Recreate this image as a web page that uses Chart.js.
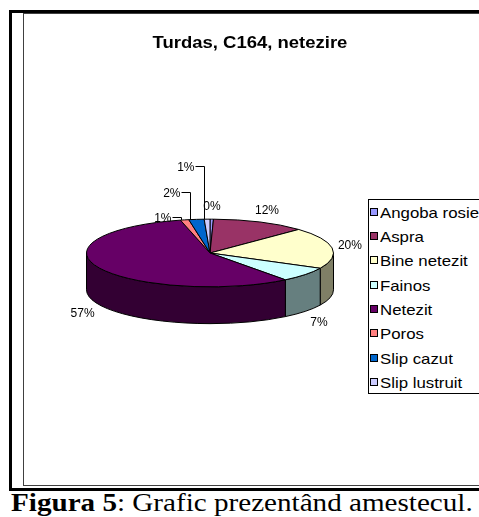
<!DOCTYPE html>
<html>
<head>
<meta charset="utf-8">
<script src="https://cdn.jsdelivr.net/npm/chart.js@4/dist/chart.umd.min.js"></script>
<style>
html,body{margin:0;padding:0;width:479px;height:517px;overflow:hidden;background:#fff;}
.abs{position:absolute;}
#title{left:0;top:34px;width:500px;text-align:center;font:bold 16.5px "Liberation Sans",Arial,sans-serif;line-height:16.5px;color:#000;transform:scaleX(1.12);transform-origin:250px 0;white-space:nowrap;}
#legend{left:368px;top:199px;width:160px;height:195px;border:1px solid #000;box-sizing:border-box;background:#fff;}
.sw{position:absolute;left:1px;width:6px;height:6px;border:1px solid #000;}
.lt{position:absolute;left:11px;height:16px;line-height:16px;font:15px "Liberation Sans",Arial,sans-serif;color:#000;white-space:nowrap;transform:scaleX(1.12);transform-origin:0 0;}
#caption{left:11px;top:490px;font:26px "Liberation Serif","Times New Roman",serif;line-height:26px;color:#000;white-space:nowrap;transform:scaleX(1.12);transform-origin:0 0;}
</style>
</head>
<body>
<div class="abs" style="left:23px;top:13px;width:520px;height:473px;border:1px solid #404040;box-sizing:border-box;"></div>
<div class="abs" style="left:9px;top:10px;width:520px;height:3px;background:#000;"></div>
<div class="abs" style="left:9px;top:10px;width:3px;height:481px;background:#000;"></div>
<div class="abs" style="left:9px;top:488px;width:520px;height:3px;background:#000;"></div>
<canvas id="c" class="abs" width="400" height="471" style="left:24px;top:14px;"></canvas>
<div id="title" class="abs"></div>
<div id="legend" class="abs"></div>
<div id="caption" class="abs"><b>Figura 5</b>: Grafic prezentând amestecul.</div>
<script>
// ---- data ----
const chartTitle = "Turdas, C164, netezire";
const categories = ["Angoba rosie", "Aspra", "Bine netezit", "Fainos", "Netezit", "Poros", "Slip cazut", "Slip lustruit"];
const shares = [0.45, 12.3, 19.7, 7.1, 56.6, 1.1, 2.0, 0.75];
const sliceColors = ["#9999FF", "#993366", "#FFFFCC", "#CCFFFF", "#660066", "#FF8080", "#0066CC", "#CCCCFF"];

function darken(hex) {
  const n = parseInt(hex.slice(1), 16);
  const r = ((n >> 16) & 255) >> 1, g = ((n >> 8) & 255) >> 1, b = (n & 255) >> 1;
  return "rgb(" + r + "," + g + "," + b + ")";
}

document.getElementById("title").textContent = chartTitle;
const lg = document.getElementById("legend");
categories.forEach((name, i) => {
  const c = 211.5 + 24.35 * i - 200;
  const sw = document.createElement("div");
  sw.className = "sw";
  sw.style.top = (c - 4) + "px";
  sw.style.background = sliceColors[i];
  lg.appendChild(sw);
  const t = document.createElement("div");
  t.className = "lt";
  t.style.top = (c - 8) + "px";
  t.textContent = name;
  lg.appendChild(t);
});

const pie3d = {
  id: "pie3d",
  beforeDatasetsDraw(chart, args, opts) {
    const ctx = chart.ctx;
    const arcs = chart.getDatasetMeta(0).data;
    const p0 = arcs[0].getProps(["x", "y", "outerRadius"], true);
    const cx = p0.x, cy = p0.y, rx = p0.outerRadius, ry = rx * opts.tilt, depth = rx * opts.depth;
    const colors = chart.data.datasets[0].backgroundColor;
    ctx.save();
    ctx.lineWidth = 1;
    ctx.strokeStyle = "#000";
    ctx.lineJoin = "round";
    // front walls
    arcs.forEach((arc, i) => {
      const p = arc.getProps(["startAngle", "endAngle"], true);
      const a0 = Math.max(p.startAngle, 0), a1 = Math.min(p.endAngle, Math.PI);
      if (a1 <= a0) return;
      ctx.beginPath();
      ctx.ellipse(cx, cy, rx, ry, 0, a0, a1, false);
      ctx.lineTo(cx + rx * Math.cos(a1), cy + ry * Math.sin(a1) + depth);
      ctx.ellipse(cx, cy + depth, rx, ry, 0, a1, a0, true);
      ctx.closePath();
      ctx.fillStyle = darken(colors[i]);
      ctx.fill();
      ctx.stroke();
    });
    // top face
    arcs.forEach((arc, i) => {
      const p = arc.getProps(["startAngle", "endAngle"], true);
      ctx.beginPath();
      ctx.moveTo(cx, cy);
      ctx.ellipse(cx, cy, rx, ry, 0, p.startAngle, p.endAngle, false);
      ctx.closePath();
      ctx.fillStyle = colors[i];
      ctx.fill();
      ctx.stroke();
    });
    // labels
    const vals = chart.data.datasets[0].data;
    const total = vals.reduce((a, b) => a + b, 0);
    ctx.font = "12px 'Liberation Sans', Arial, sans-serif";
    ctx.fillStyle = "#000";
    ctx.textBaseline = "middle";
    let level = 0;
    arcs.forEach((arc, i) => {
      const p = arc.getProps(["startAngle", "endAngle"], true);
      const pct = vals[i] / total * 100;
      const txt = Math.round(pct) + "%";
      const mid = (p.startAngle + p.endAngle) / 2;
      if (pct < 3 && mid > Math.PI && mid < 1.5 * Math.PI) {
        const a = p.startAngle + 0.15 * (p.endAngle - p.startAngle);
        const ax = Math.round(cx + rx * Math.cos(a)) - 0.5, ay = cy + ry * Math.sin(a);
        const ly = Math.round(ay - 3 - level * 25) + 0.5;
        ctx.beginPath();
        ctx.moveTo(ax, ay);
        ctx.lineTo(ax, ly);
        ctx.lineTo(ax - 9, ly);
        ctx.stroke();
        ctx.textAlign = "right";
        ctx.fillText(txt, ax - 10, ly + 1);
        level++;
      } else {
        const c = Math.cos(mid), s = Math.sin(mid);
        const lx = cx + (rx + 18) * c;
        const ly = cy + (ry + 12) * s + (s > 0 ? depth + 4 : 0);
        ctx.textAlign = "center";
        ctx.fillText(txt, lx, ly);
      }
    });
    ctx.restore();
    return false;
  }
};

new Chart(document.getElementById("c"), {
  type: "pie",
  data: {
    labels: categories,
    datasets: [{ data: shares, backgroundColor: sliceColors, borderColor: "#000", borderWidth: 1 }]
  },
  options: {
    responsive: false,
    animation: false,
    devicePixelRatio: 1,
    layout: { padding: { left: 62, top: 115, right: 90, bottom: 108 } },
    plugins: {
      legend: { display: false },
      title: { display: false },
      tooltip: { enabled: false },
      pie3d: { tilt: 0.274, depth: 0.298 }
    }
  },
  plugins: [pie3d]
});
</script>
</body>
</html>
